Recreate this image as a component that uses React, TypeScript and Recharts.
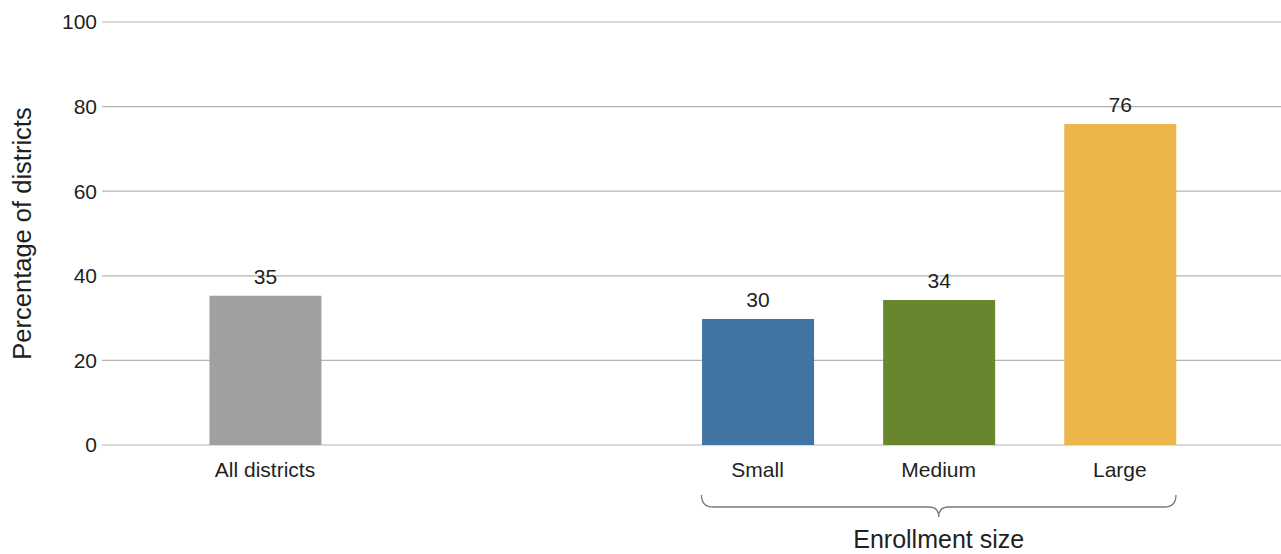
import React from 'react';
import {
  BarChart,
  Bar,
  XAxis,
  YAxis,
  CartesianGrid,
  Cell,
  LabelList,
  ReferenceArea
} from 'recharts';

// categories, their slot positions on the x axis, values and colours
const categories = ['All districts', 'Small', 'Medium', 'Large'];
const positions = [0.9, 3.62, 4.62, 5.62];
const values = [35.3, 29.8, 34.3, 75.9];
const labels = ['35', '30', '34', '76'];
const colors = ['#a0a0a2', '#4174a3', '#67862d', '#eeb54a'];
const yTicks = [0, 20, 40, 60, 80, 100];

// the brace groups the enrollment-size bars
const braceFrom = 3.31;
const braceTo = 5.93;
const braceTitle = 'Enrollment size';

const FONT = '"Liberation Sans", Arial, Helvetica, sans-serif';
const TEXT = '#231f20';

const data = categories.map((name, i) => ({
  name,
  pos: positions[i],
  value: values[i],
  label: labels[i]
}));

const tickName = (v: number) => {
  const i = positions.indexOf(v);
  return i >= 0 ? categories[i] : '';
};

const Brace = (props: any) => {
  const { x, y, width, height } = props;
  const x2 = x + width;
  const cx = x + width / 2;
  const mid = y + height * 0.55;
  const tip = y + height;
  const d = `M${x},${y} Q${x},${mid} ${x + 12},${mid} L${cx - 10},${mid} Q${cx},${mid} ${cx},${tip} Q${cx},${mid} ${cx + 10},${mid} L${x2 - 12},${mid} Q${x2},${mid} ${x2},${y}`;
  return (
    <g>
      <path d={d} fill="none" stroke="#7a7a7a" strokeWidth={1.3} />
      <text x={cx} y={tip + 31} textAnchor="middle" fontSize={25} fill={TEXT} fontFamily={FONT}>
        {braceTitle}
      </text>
    </g>
  );
};

const YLabel = (props: any) => {
  const { x, y, height } = props.viewBox;
  const lx = x + 22;
  const ly = y + height / 2;
  return (
    <text
      x={lx}
      y={ly}
      transform={`rotate(-90, ${lx}, ${ly})`}
      textAnchor="middle"
      dominantBaseline="central"
      fontSize={25.5}
      fill={TEXT}
      fontFamily={FONT}
    >
      Percentage of districts
    </text>
  );
};

export default function App() {
  return (
    <div style={{ position: 'absolute', left: 0, top: 0, background: '#fff' }}>
      <BarChart
        width={1281}
        height={554}
        data={data}
        margin={{ top: 22, right: 0, left: 0, bottom: 79 }}
      >
        <CartesianGrid vertical={false} stroke="#b3b3b3" strokeWidth={1.2} />
        <XAxis
          dataKey="pos"
          type="number"
          domain={[0, 6.51]}
          ticks={positions}
          tickFormatter={tickName}
          axisLine={false}
          tickLine={false}
          tickSize={0}
          tickMargin={17}
          height={30}
          interval={0}
          tick={{ fill: TEXT, fontSize: 21, fontFamily: FONT }}
        />
        <YAxis
          domain={[0, 100]}
          ticks={yTicks}
          axisLine={false}
          tickLine={false}
          tickSize={0}
          tickMargin={5}
          width={102}
          tick={{ fill: TEXT, fontSize: 21, fontFamily: FONT }}
          label={{ content: YLabel }}
        />
        <Bar dataKey="value" barSize={112} isAnimationActive={false}>
          {data.map((d, i) => (
            <Cell key={d.name} fill={colors[i]} />
          ))}
          <LabelList
            dataKey="label"
            position="top"
            offset={12}
            fill={TEXT}
            fontSize={21}
            fontFamily={FONT}
          />
        </Bar>
        <ReferenceArea
          x1={braceFrom}
          x2={braceTo}
          y1={-11.8}
          y2={-17}
          ifOverflow="visible"
          shape={Brace}
        />
      </BarChart>
    </div>
  );
}
